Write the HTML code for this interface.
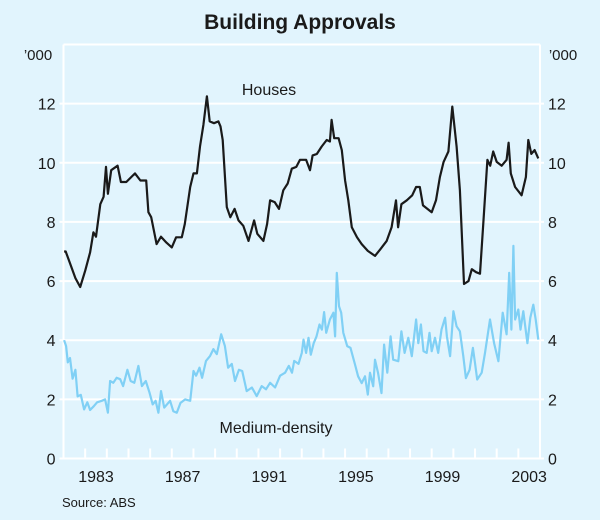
<!DOCTYPE html>
<html><head><meta charset="utf-8"><style>
html,body{margin:0;padding:0;background:#e1f4fd;}
svg{display:block;font-family:"Liberation Sans",Arial,sans-serif;}
</style></head><body>
<svg id="chart" width="600" height="520" viewBox="0 0 600 520" xmlns="http://www.w3.org/2000/svg">
<rect x="0" y="0" width="600" height="520" fill="#e1f4fd"/>
<text x="300" y="29" text-anchor="middle" font-size="21" font-weight="bold" fill="#1a1a1a">Building Approvals</text>
<text x="38" y="60" text-anchor="middle" font-size="15" fill="#1a1a1a">’000</text>
<text x="563" y="60" text-anchor="middle" font-size="15" fill="#1a1a1a">’000</text>
<g id="grid"></g>
<g id="series"></g>
<text x="269" y="95" text-anchor="middle" font-size="16" fill="#1a1a1a">Houses</text>
<text x="276" y="433" text-anchor="middle" font-size="16" fill="#1a1a1a">Medium-density</text>
<text x="62" y="507" font-size="13" fill="#1a1a1a">Source: ABS</text>
</svg>
<script>
const yTicks = [0,2,4,6,8,10,12];
const xLabels = [1983,1987,1991,1995,1999,2003];
const houseYears = [1982.03,1982.1,1982.3,1982.55,1982.77,1983.0,1983.23,1983.38,1983.5,1983.7,1983.85,1983.96,1984.05,1984.2,1984.5,1984.65,1984.9,1985.3,1985.55,1985.82,1985.92,1986.05,1986.3,1986.5,1986.75,1987.0,1987.2,1987.46,1987.6,1987.85,1988.0,1988.16,1988.3,1988.46,1988.62,1988.75,1988.95,1989.15,1989.25,1989.35,1989.54,1989.7,1989.9,1990.08,1990.3,1990.54,1990.8,1990.95,1991.23,1991.4,1991.54,1991.75,1991.95,1992.15,1992.35,1992.54,1992.75,1992.92,1993.2,1993.38,1993.5,1993.7,1993.92,1994.15,1994.3,1994.38,1994.5,1994.7,1994.85,1995.0,1995.15,1995.31,1995.55,1995.77,1996.05,1996.38,1996.62,1996.92,1997.15,1997.35,1997.45,1997.6,1997.85,1998.1,1998.28,1998.45,1998.6,1999.0,1999.2,1999.38,1999.55,1999.77,1999.95,2000.15,2000.3,2000.49,2000.7,2000.85,2001.05,2001.23,2001.4,2001.57,2001.7,2001.84,2002.0,2002.23,2002.46,2002.55,2002.65,2002.85,2003.15,2003.35,2003.46,2003.6,2003.75,2003.92];
const houseValues = [7.0,7.0,6.6,6.1,5.8,6.35,6.97,7.65,7.5,8.6,8.85,9.86,8.95,9.75,9.9,9.35,9.35,9.64,9.4,9.4,8.33,8.16,7.25,7.5,7.3,7.14,7.48,7.48,7.93,9.18,9.64,9.64,10.55,11.28,12.25,11.4,11.34,11.4,11.23,10.77,8.5,8.16,8.44,8.05,7.87,7.36,8.05,7.6,7.36,7.93,8.73,8.67,8.44,9.07,9.3,9.8,9.86,10.1,10.1,9.75,10.25,10.3,10.55,10.77,10.72,11.45,10.83,10.83,10.43,9.4,8.73,7.82,7.48,7.25,7.02,6.85,7.07,7.36,7.82,8.73,7.82,8.6,8.73,8.9,9.18,9.18,8.56,8.33,8.73,9.52,10.03,10.38,11.9,10.55,9.07,5.9,6.0,6.4,6.3,6.25,8.16,10.1,9.9,10.38,10.03,9.9,10.1,10.68,9.64,9.18,8.9,9.52,10.77,10.3,10.43,10.15];
const mediumYears = [1982.03,1982.12,1982.2,1982.3,1982.42,1982.55,1982.65,1982.8,1982.95,1983.1,1983.23,1983.4,1983.55,1983.77,1983.92,1984.05,1984.15,1984.3,1984.45,1984.62,1984.75,1984.95,1985.1,1985.27,1985.46,1985.62,1985.8,1985.97,1986.12,1986.25,1986.38,1986.5,1986.65,1986.92,1987.07,1987.23,1987.4,1987.62,1987.85,1988.0,1988.12,1988.28,1988.4,1988.58,1988.77,1988.92,1989.08,1989.28,1989.45,1989.6,1989.77,1989.92,1990.1,1990.25,1990.46,1990.7,1990.92,1991.15,1991.35,1991.54,1991.77,1992.0,1992.23,1992.4,1992.55,1992.65,1992.85,1993.0,1993.08,1993.2,1993.31,1993.42,1993.55,1993.68,1993.82,1993.93,1994.03,1994.13,1994.3,1994.46,1994.54,1994.62,1994.72,1994.82,1994.92,1995.1,1995.25,1995.46,1995.6,1995.77,1995.92,1996.05,1996.15,1996.3,1996.38,1996.52,1996.68,1996.8,1996.95,1997.1,1997.22,1997.46,1997.6,1997.75,1997.92,1998.08,1998.28,1998.38,1998.5,1998.62,1998.77,1998.9,1999.0,1999.15,1999.3,1999.45,1999.62,1999.7,1999.85,2000.0,2000.15,2000.3,2000.46,2000.58,2000.75,2000.9,2001.0,2001.1,2001.31,2001.46,2001.69,2001.88,2002.08,2002.28,2002.46,2002.58,2002.68,2002.77,2002.85,2003.0,2003.1,2003.23,2003.42,2003.55,2003.69,2003.8,2003.92];
const mediumValues = [4.0,3.8,3.25,3.4,2.7,3.0,2.1,2.15,1.66,1.9,1.64,1.77,1.9,1.95,2.0,1.55,2.62,2.56,2.73,2.68,2.45,3.0,2.62,2.56,3.13,2.45,2.62,2.23,1.83,1.95,1.55,2.28,1.72,1.95,1.6,1.55,1.88,2.0,1.95,2.96,2.8,3.07,2.73,3.3,3.47,3.7,3.53,4.2,3.8,3.07,3.2,2.62,3.0,2.96,2.28,2.4,2.11,2.45,2.34,2.56,2.4,2.8,2.9,3.13,2.9,3.3,3.2,3.57,4.02,3.57,4.08,3.51,3.9,4.13,4.53,4.36,4.95,4.25,4.7,4.93,4.13,6.28,5.15,4.93,4.25,3.8,3.74,3.18,2.78,2.55,2.78,2.16,2.9,2.44,3.34,2.9,2.21,3.85,2.9,4.13,3.34,3.29,4.3,3.57,4.08,3.46,4.7,3.9,4.53,3.63,3.57,4.25,3.63,4.08,3.57,4.36,4.76,4.13,3.46,4.98,4.47,4.3,3.46,2.72,3.0,3.74,3.23,2.67,2.9,3.57,4.7,3.9,3.29,4.93,4.2,6.28,4.36,7.19,4.7,5.04,4.36,4.98,3.9,4.76,5.2,4.7,4.02];

const X0=63.5, X1=540, Y0=458.5, Y1=44.5;
const xMin=1982, xMax=2004, yMin=0, yMax=14;
function xScale(v){return X0+(v-xMin)/(xMax-xMin)*(X1-X0);}
function yScale(v){return Y0-(v-yMin)/(yMax-yMin)*(Y0-Y1);}
const NS="http://www.w3.org/2000/svg";
const grid=document.getElementById('grid');
const series=document.getElementById('series');
function mk(tag,attrs,parent){const e=document.createElementNS(NS,tag);for(const k in attrs)e.setAttribute(k,attrs[k]);parent.appendChild(e);return e;}

// plot borders
let b=mk('line',{x1:X0,y1:Y1,x2:X0,y2:Y0,stroke:'#ffffff','stroke-width':2},grid);


b=mk('line',{x1:X1,y1:Y1,x2:X1,y2:Y0,stroke:'#ffffff','stroke-width':2},grid);


b=mk('line',{x1:X0,y1:Y1,x2:X1,y2:Y1,stroke:'#ffffff','stroke-width':2},grid);



yTicks.forEach(t=>{
  const y=yScale(t);
  const g=mk('line',{x1:X0-4,y1:y,x2:X1+4,y2:y,stroke:'#ffffff','stroke-width':2},grid);
  
  
  const l=mk('text',{x:X0-8,y:y+6,'text-anchor':'end','font-size':16,fill:'#1a1a1a'},grid);
  l.textContent=t;
  
  
  const r=mk('text',{x:X1+8,y:y+6,'text-anchor':'start','font-size':16,fill:'#1a1a1a'},grid);
  r.textContent=t;
  
  
});
for(let yr=xMin+1; yr<xMax; yr++){
  const x=xScale(yr);
  const t=mk('line',{x1:x,y1:Y0-10,x2:x,y2:Y0,stroke:'#ffffff','stroke-width':2},grid);
  
  
}
xLabels.forEach(yr=>{
  const l=mk('text',{x:xScale(yr+0.5),y:482,'text-anchor':'middle','font-size':16,fill:'#1a1a1a'},grid);
  l.textContent=yr;
  
  
});
function line(xs,vs,color){
  return xs.map((x,i)=>(i?'L':'M')+xScale(x).toFixed(1)+' '+yScale(vs[i]).toFixed(1)).join(' ');
}
const md=mk('path',{d:line(mediumYears,mediumValues),fill:'none',stroke:'#80d0f5','stroke-width':2.2,'stroke-linejoin':'round'},series);


const hs=mk('path',{d:line(houseYears,houseValues),fill:'none',stroke:'#1a1a1a','stroke-width':2.2,'stroke-linejoin':'round'},series);


</script>
</body></html>
